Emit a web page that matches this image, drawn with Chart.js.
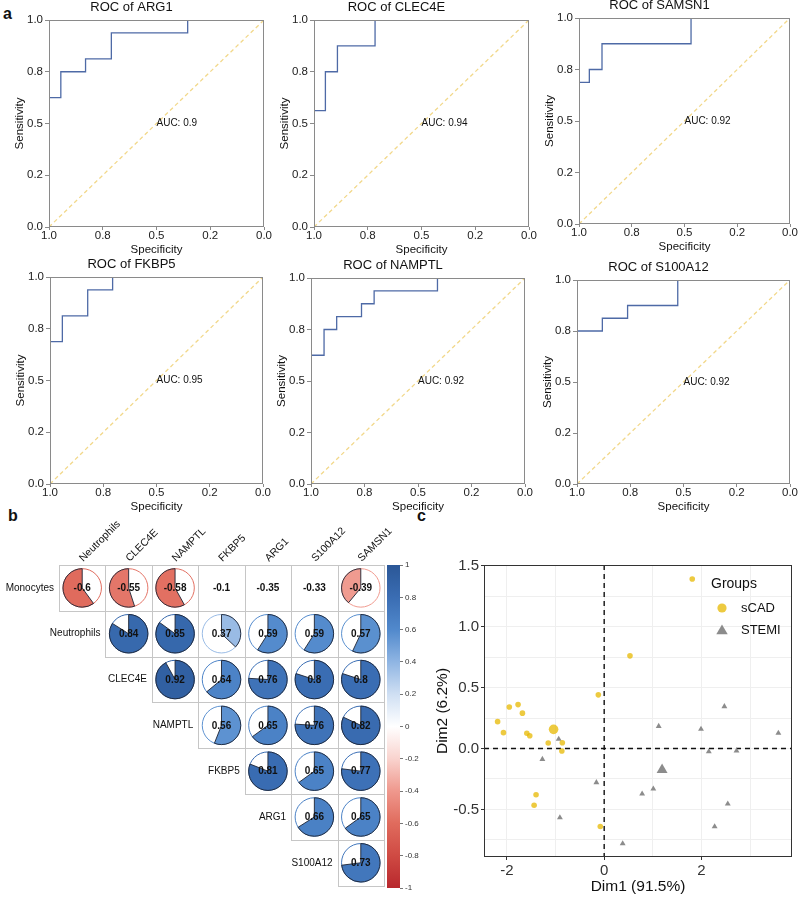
<!DOCTYPE html>
<html lang="en">
<head>
<meta charset="UTF-8">
<title>ROC, correlation and PCA of marker genes</title>
<script src="https://cdn.jsdelivr.net/npm/chart.js@4.4.1/dist/chart.umd.min.js"></script>
<style>
    body { margin: 0; background: #fff; }
    #fig {
        position: relative;
        width: 800px;
        height: 897px;
        overflow: hidden;
        background: #fff;
        font-family: "Liberation Sans", Arial, sans-serif;
    }
    #fig canvas { position: absolute; }
    .tag { position: absolute; font-weight: bold; font-size: 16px; line-height: 1; color: #111; }
</style>
</head>
<body>
<div id="fig">
    <div class="tag" style="left:3px;top:6px">a</div>
    <div class="tag" style="left:8px;top:508px">b</div>
    <div class="tag" style="left:417px;top:508px">c</div>
</div>
<script>
// ---- panel a: ROC curves ----
const rocGenes = ['ARG1', 'CLEC4E', 'SAMSN1', 'FKBP5', 'NAMPTL', 'S100A12'];
const rocAuc = [0.9, 0.94, 0.92, 0.95, 0.92, 0.92];
const rocSpec = [
    [1, 0.945, 0.83, 0.71, 0.355, 0],
    [1, 0.947, 0.891, 0.716, 0],
    [1, 0.951, 0.891, 0.469, 0],
    [1, 0.942, 0.823, 0.706, 0],
    [1, 0.939, 0.88, 0.764, 0.705, 0.409, 0],
    [1, 0.881, 0.7625, 0.527, 0]
];
const rocSens = [
    [0.625, 0.75, 0.8125, 0.9375, 1, 1],
    [0.5625, 0.75, 0.875, 1, 1],
    [0.6875, 0.75, 0.875, 1, 1],
    [0.6875, 0.8125, 0.9375, 1, 1],
    [0.625, 0.75, 0.8125, 0.875, 0.9375, 1, 1],
    [0.75, 0.8125, 0.875, 1, 1]
];
const rocDiagSpec = [1, 0];
const rocDiagSens = [0, 1];
const rocTickValues = [0, 0.25, 0.5, 0.75, 1];
const rocTickLabels = ['0.0', '0.2', '0.5', '0.8', '1.0'];

// ---- panel b: correlation pies ----
const corrCols = ['Neutrophils', 'CLEC4E', 'NAMPTL', 'FKBP5', 'ARG1', 'S100A12', 'SAMSN1'];
const corrRows = ['Monocytes', 'Neutrophils', 'CLEC4E', 'NAMPTL', 'FKBP5', 'ARG1', 'S100A12'];
const corrValues = [
    [-0.6, -0.55, -0.58, -0.1, -0.35, -0.33, -0.39],
    [0.84, 0.85, 0.37, 0.59, 0.59, 0.57],
    [0.92, 0.64, 0.76, 0.8, 0.8],
    [0.56, 0.65, 0.76, 0.82],
    [0.81, 0.65, 0.77],
    [0.66, 0.65],
    [0.73]
];
const corrSignificant = [
    [1, 1, 1, 0, 0, 0, 1],
    [1, 1, 1, 1, 1, 1],
    [1, 1, 1, 1, 1],
    [1, 1, 1, 1],
    [1, 1, 1],
    [1, 1],
    [1]
];
const corrColorStops = [
    [-1, '#b8282d'], [-0.8, '#cf4a43'], [-0.6, '#e06b5d'], [-0.4, '#ef988d'], [-0.2, '#f9d3ce'],
    [0, '#ffffff'],
    [0.2, '#cfdff3'], [0.4, '#8fb5e3'], [0.6, '#5189cc'], [0.8, '#3a6db3'], [1, '#2b5797']
];

// ---- panel c: PCA individuals ----
const scadDim1 = [1.81, 0.53, -0.12, -2.19, -1.95, -1.77, -1.68, -2.07, -1.59, -1.53, -1.15, -0.86, -0.87, -1.40, -1.44, -0.08];
const scadDim2 = [1.39, 0.76, 0.44, 0.22, 0.34, 0.36, 0.29, 0.13, 0.125, 0.105, 0.045, 0.047, -0.02, -0.38, -0.465, -0.64];
const stemiDim1 = [-0.935, -1.27, -0.91, -0.16, 0.38, 0.78, 1.01, 1.12, 1.99, 2.15, 2.47, 2.72, 2.54, 2.27, 3.58];
const stemiDim2 = [0.077, -0.088, -0.567, -0.279, -0.78, -0.372, -0.331, 0.183, 0.159, -0.025, 0.345, -0.019, -0.454, -0.641, 0.126];
const scadCenter = [-1.04, 0.157];
const stemiCenter = [1.19, -0.175];
const pcaXTicks = [-2, -1, 0, 1, 2, 3];
const pcaXLabels = ['-2', '', '0', '', '2', ''];
const pcaYTicks = [-0.75, -0.5, -0.25, 0, 0.25, 0.5, 0.75, 1, 1.25, 1.5];
const pcaYLabels = ['', '-0.5', '', '0.0', '', '0.5', '', '1.0', '', '1.5'];
const pcaGroups = ['sCAD', 'STEMI'];
const pcaColors = ['rgba(231,184,0,0.75)', '#8c8c8c'];

const FONT = '"Liberation Sans", Arial, sans-serif';
Chart.defaults.font.family = FONT;
Chart.defaults.color = '#222';

function addCanvas(left, top, w, h) {
    const cv = document.createElement('canvas');
    cv.width = w;
    cv.height = h;
    cv.style.left = left + 'px';
    cv.style.top = top + 'px';
    cv.style.width = w + 'px';
    cv.style.height = h + 'px';
    document.getElementById('fig').appendChild(cv);
    return cv;
}

const frame = {
    id: 'frame',
    afterDatasetsDraw(chart, args, opts) {
        const a = chart.chartArea, c = chart.ctx;
        c.save();
        c.strokeStyle = opts.color;
        c.lineWidth = 1;
        c.strokeRect(Math.round(a.left) + 0.5, Math.round(a.top) + 0.5,
            Math.round(a.right) - Math.round(a.left) - 1, Math.round(a.bottom) - Math.round(a.top) - 1);
        c.restore();
    }
};

const aucLabel = {
    id: 'aucLabel',
    afterDatasetsDraw(chart, args, opts) {
        const c = chart.ctx;
        c.save();
        c.font = '10px ' + FONT;
        c.fillStyle = '#111';
        c.textAlign = 'left';
        c.textBaseline = 'middle';
        c.fillText(opts.text, chart.scales.x.getPixelForValue(opts.at[0]), chart.scales.y.getPixelForValue(opts.at[1]));
        c.restore();
    }
};

// plot boxes of the six ROC panels
const rocBoxes = [
    {l: 49, t: 20, w: 215, h: 207},
    {l: 314, t: 20, w: 215, h: 207},
    {l: 579, t: 18, w: 211, h: 206},
    {l: 50, t: 277, w: 213, h: 207},
    {l: 311, t: 278, w: 214, h: 206},
    {l: 577, t: 280, w: 213, h: 204}
];

rocGenes.forEach((gene, i) => {
    const b = rocBoxes[i];
    const cv = addCanvas(b.l - 50, b.t - 22, b.w + 62, b.h + 56);
    new Chart(cv, {
        type: 'line',
        data: {
            datasets: [
                {
                    data: rocDiagSpec.map((s, k) => ({x: s, y: rocDiagSens[k]})),
                    borderColor: '#f2d88a', borderWidth: 1.3, borderDash: [4, 3], pointRadius: 0
                },
                {
                    data: rocSpec[i].map((s, k) => ({x: s, y: rocSens[i][k]})),
                    borderColor: '#4e6aa6', borderWidth: 1.3, pointRadius: 0, stepped: true
                }
            ]
        },
        options: {
            responsive: false,
            animation: false,
            events: [],
            layout: {padding: {left: 0, right: 12, top: 0, bottom: 0}},
            plugins: {
                legend: {display: false},
                tooltip: {enabled: false},
                title: {
                    display: true, text: 'ROC of ' + gene, color: '#111',
                    font: {size: 13, weight: 'normal'}, padding: {top: 2, bottom: 4.4}
                },
                aucLabel: {text: 'AUC: ' + rocAuc[i], at: [0.5, 0.5]},
                frame: {color: '#8a8a8a'}
            },
            scales: {
                x: {
                    type: 'linear', reverse: true, min: 0, max: 1,
                    afterBuildTicks: s => { s.ticks = rocTickValues.map(v => ({value: v})); },
                    afterFit: s => { s.height = 34; s.paddingLeft = 0; s.paddingRight = 0; },
                    ticks: {
                        callback: v => rocTickLabels[rocTickValues.indexOf(v)],
                        font: {size: 11.5}, color: '#222', padding: -1, maxRotation: 0, autoSkip: false
                    },
                    grid: {drawOnChartArea: false, tickLength: 3, color: '#8a8a8a'},
                    border: {display: false},
                    title: {display: true, text: 'Specificity', color: '#111', font: {size: 11.5}, padding: {top: 0, bottom: 4}}
                },
                y: {
                    type: 'linear', min: 0, max: 1,
                    afterBuildTicks: s => { s.ticks = rocTickValues.map(v => ({value: v})); },
                    afterFit: s => { s.width = 50; s.paddingTop = 0; s.paddingBottom = 0; },
                    ticks: {
                        callback: v => rocTickLabels[rocTickValues.indexOf(v)],
                        font: {size: 11.5}, color: '#222', padding: 2, autoSkip: false
                    },
                    grid: {drawOnChartArea: false, tickLength: 4, color: '#8a8a8a'},
                    border: {display: false},
                    title: {display: true, text: 'Sensitivity', color: '#111', font: {size: 11.5}, padding: {top: 14, bottom: 0}}
                }
            }
        },
        plugins: [aucLabel, frame]
    });
});

// ---- correlation pies ----
function hexRgb(h) {
    return [parseInt(h.slice(1, 3), 16), parseInt(h.slice(3, 5), 16), parseInt(h.slice(5, 7), 16)];
}
function corrColor(v) {
    for (let k = 1; k < corrColorStops.length; k++) {
        const [v0, c0] = corrColorStops[k - 1], [v1, c1] = corrColorStops[k];
        if (v <= v1) {
            const t = (v - v0) / (v1 - v0), a = hexRgb(c0), b = hexRgb(c1);
            return 'rgb(' + a.map((x, j) => Math.round(x + (b[j] - x) * t)).join(',') + ')';
        }
    }
    return corrColorStops[corrColorStops.length - 1][1];
}

const corrPoints = [];
corrValues.forEach((row, r) => {
    row.forEach((v, k) => {
        corrPoints.push({x: r + k, y: r, v: v, sig: corrSignificant[r][k]});
    });
});

const corrDraw = {
    id: 'corrDraw',
    beforeDatasetsDraw(chart) {
        const {x, y} = chart.scales, c = chart.ctx;
        c.save();
        c.strokeStyle = '#c6c6c6';
        c.lineWidth = 1;
        corrPoints.forEach(p => {
            const x0 = Math.round(x.getPixelForValue(p.x - 0.5)) + 0.5;
            const x1 = Math.round(x.getPixelForValue(p.x + 0.5)) + 0.5;
            const y0 = Math.round(y.getPixelForValue(p.y - 0.5)) + 0.5;
            const y1 = Math.round(y.getPixelForValue(p.y + 0.5)) + 0.5;
            c.strokeRect(x0, y0, x1 - x0, y1 - y0);
        });
        // labels
        c.fillStyle = '#111';
        c.font = '10px ' + FONT;
        c.textAlign = 'right';
        c.textBaseline = 'middle';
        corrRows.forEach((name, r) => {
            c.fillText(name, x.getPixelForValue(r - 0.5) - 5, y.getPixelForValue(r));
        });
        c.font = '10.5px ' + FONT;
        c.textAlign = 'left';
        corrCols.forEach((name, k) => {
            c.save();
            c.translate(x.getPixelForValue(k) - 1, chart.chartArea.top - 5);
            c.rotate(-Math.PI / 4);
            c.fillText(name, 0, 0);
            c.restore();
        });
        c.restore();
    },
    afterDatasetsDraw(chart) {
        const meta = chart.getDatasetMeta(0), c = chart.ctx;
        const {x, y} = chart.scales;
        const r = Math.min(x.getPixelForValue(1) - x.getPixelForValue(0),
            Math.abs(y.getPixelForValue(1) - y.getPixelForValue(0))) * 0.42;
        c.save();
        meta.data.forEach((el, i) => {
            const p = corrPoints[i];
            if (p.sig) {
                const col = corrColor(p.v);
                c.beginPath();
                c.arc(el.x, el.y, r, 0, 2 * Math.PI);
                c.fillStyle = '#fff';
                c.fill();
                c.strokeStyle = col;
                c.lineWidth = 1;
                c.stroke();
                const start = -Math.PI / 2;
                c.beginPath();
                c.moveTo(el.x, el.y);
                c.arc(el.x, el.y, r, start, start + 2 * Math.PI * p.v, p.v < 0);
                c.closePath();
                c.fillStyle = col;
                c.fill();
                c.strokeStyle = '#1d2433';
                c.lineWidth = 0.9;
                c.stroke();
            }
            c.fillStyle = '#111';
            c.font = 'bold 10px ' + FONT;
            c.textAlign = 'center';
            c.textBaseline = 'middle';
            c.fillText(String(p.v), el.x, el.y + 0.5);
        });
        c.restore();
    }
};

new Chart(addCanvas(0, 505, 410, 392), {
    type: 'scatter',
    data: {datasets: [{data: corrPoints, pointRadius: 0}]},
    options: {
        responsive: false,
        animation: false,
        events: [],
        layout: {padding: {left: 59, top: 60, right: 26, bottom: 11.3}},
        plugins: {legend: {display: false}, tooltip: {enabled: false}},
        scales: {
            x: {type: 'linear', min: -0.5, max: 6.5, display: false},
            y: {type: 'linear', min: -0.5, max: 6.5, reverse: true, display: false}
        }
    },
    plugins: [corrDraw]
});

// colour bar
new Chart(addCanvas(380, 555, 45, 342), {
    type: 'bar',
    data: {
        labels: [''],
        datasets: [{
            data: [[-1, 1]],
            borderWidth: 0,
            categoryPercentage: 1,
            barPercentage: 1,
            backgroundColor: ctx => {
                const ch = ctx.chart;
                if (!ch.chartArea) return '#fff';
                const ys = ch.scales.y;
                const g = ch.ctx.createLinearGradient(0, ys.getPixelForValue(-1), 0, ys.getPixelForValue(1));
                corrColorStops.forEach(([v, col]) => g.addColorStop((v + 1) / 2, col));
                return g;
            }
        }]
    },
    options: {
        responsive: false,
        animation: false,
        events: [],
        layout: {padding: {left: 7, top: 10, bottom: 9, right: 0}},
        plugins: {legend: {display: false}, tooltip: {enabled: false}},
        scales: {
            x: {display: false},
            y: {
                position: 'right', min: -1, max: 1,
                afterFit: s => { s.width = 25; s.paddingTop = 0; s.paddingBottom = 0; },
                ticks: {stepSize: 0.2, font: {size: 8}, color: '#333', padding: 2,
                    callback: v => String(Math.round(v * 10) / 10)},
                grid: {drawOnChartArea: false, tickLength: 3, color: '#777'},
                border: {display: false}
            }
        }
    }
});

// ---- PCA plot ----
const zeroLines = {
    id: 'zeroLines',
    beforeDatasetsDraw(chart) {
        const {x, y} = chart.scales, a = chart.chartArea, c = chart.ctx;
        c.save();
        c.strokeStyle = '#111';
        c.lineWidth = 1.4;
        c.setLineDash([5, 4]);
        const px = x.getPixelForValue(0), py = y.getPixelForValue(0);
        c.beginPath();
        c.moveTo(px, a.top); c.lineTo(px, a.bottom);
        c.moveTo(a.left, py); c.lineTo(a.right, py);
        c.stroke();
        c.restore();
    }
};

function shape(c, style, x, y, r) {
    c.beginPath();
    if (style === 'triangle') {
        let rad = 0;
        c.moveTo(x + Math.sin(rad) * r, y - Math.cos(rad) * r);
        rad += 2 * Math.PI / 3;
        c.lineTo(x + Math.sin(rad) * r, y - Math.cos(rad) * r);
        rad += 2 * Math.PI / 3;
        c.lineTo(x + Math.sin(rad) * r, y - Math.cos(rad) * r);
        c.closePath();
    } else {
        c.arc(x, y, r, 0, 2 * Math.PI);
    }
    c.fill();
}

const groupLegend = {
    id: 'groupLegend',
    afterDatasetsDraw(chart) {
        const a = chart.chartArea, c = chart.ctx;
        c.save();
        c.fillStyle = '#111';
        c.textBaseline = 'middle';
        c.textAlign = 'left';
        c.font = '14px ' + FONT;
        c.fillText('Groups', a.right - 81, a.top + 19);
        c.font = '13px ' + FONT;
        const styles = ['circle', 'triangle'], radii = [4.6, 6.6];
        pcaGroups.forEach((g, i) => {
            const yy = a.top + 43 + i * 22;
            c.fillStyle = pcaColors[i];
            shape(c, styles[i], a.right - 70, yy + (i ? 1 : 0), radii[i]);
            c.fillStyle = '#111';
            c.fillText(g, a.right - 51, yy);
        });
        c.restore();
    }
};

new Chart(addCanvas(430, 540, 370, 357), {
    type: 'scatter',
    data: {
        datasets: [
            {label: 'sCAD', data: scadDim1.map((v, k) => ({x: v, y: scadDim2[k]})),
                pointStyle: 'circle', pointRadius: 2.8, pointBackgroundColor: pcaColors[0], pointBorderWidth: 0},
            {label: 'STEMI', data: stemiDim1.map((v, k) => ({x: v, y: stemiDim2[k]})),
                pointStyle: 'triangle', pointRadius: 3.4, pointBackgroundColor: pcaColors[1], pointBorderWidth: 0},
            {label: 'sCAD mean', data: [{x: scadCenter[0], y: scadCenter[1]}],
                pointStyle: 'circle', pointRadius: 4.8, pointBackgroundColor: pcaColors[0], pointBorderWidth: 0},
            {label: 'STEMI mean', data: [{x: stemiCenter[0], y: stemiCenter[1]}],
                pointStyle: 'triangle', pointRadius: 6.3, pointBackgroundColor: pcaColors[1], pointBorderWidth: 0}
        ]
    },
    options: {
        responsive: false,
        animation: false,
        events: [],
        layout: {padding: {left: 0, top: 25, right: 8, bottom: 0}},
        plugins: {legend: {display: false}, tooltip: {enabled: false}, frame: {color: '#333'}},
        scales: {
            x: {
                type: 'linear', min: -2.47, max: 3.86,
                afterBuildTicks: s => { s.ticks = pcaXTicks.map(v => ({value: v})); },
                afterFit: s => { s.height = 40; s.paddingLeft = 0; s.paddingRight = 0; },
                ticks: {callback: v => pcaXLabels[pcaXTicks.indexOf(v)], font: {size: 15}, color: '#333',
                    padding: 2, maxRotation: 0, autoSkip: false},
                grid: {color: '#efefef', tickLength: 3,
                    tickColor: ctx => pcaXLabels[ctx.index] ? '#333' : 'rgba(0,0,0,0)'},
                border: {display: false},
                title: {display: true, text: 'Dim1 (91.5%)', color: '#111', font: {size: 15.5}, padding: {top: 0, bottom: 1}}
            },
            y: {
                type: 'linear', min: -0.89, max: 1.505,
                afterBuildTicks: s => { s.ticks = pcaYTicks.map(v => ({value: v})); },
                afterFit: s => { s.width = 54; s.paddingTop = 0; s.paddingBottom = 0; },
                ticks: {callback: v => pcaYLabels[pcaYTicks.indexOf(v)], font: {size: 15}, color: '#333',
                    padding: 2, autoSkip: false},
                grid: {color: '#efefef', tickLength: 3,
                    tickColor: ctx => pcaYLabels[ctx.index] ? '#333' : 'rgba(0,0,0,0)'},
                border: {display: false},
                title: {display: true, text: 'Dim2 (6.2%)', color: '#111', font: {size: 15.5}, padding: {top: 3.7, bottom: 0}}
            }
        }
    },
    plugins: [zeroLines, frame, groupLegend]
});
</script>
</body>
</html>
